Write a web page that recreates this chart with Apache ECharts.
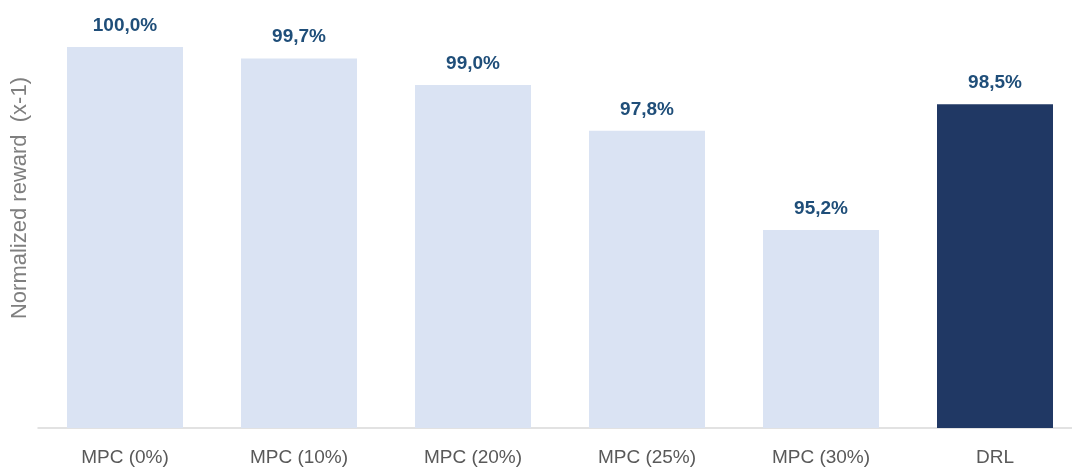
<!DOCTYPE html>
<html>
<head>
<meta charset="utf-8">
<style>
  html, body { margin: 0; padding: 0; background: #ffffff; }
  #chart { width: 1072px; height: 468px; }
</style>
<script src="https://cdn.jsdelivr.net/npm/echarts@6/dist/echarts.min.js"></script>
</head>
<body>
<div id="chart"></div>
<script>
// Controller categories and their normalized rewards (%)
const categories = ['MPC (0%)', 'MPC (10%)', 'MPC (20%)', 'MPC (25%)', 'MPC (30%)', 'DRL'];
const rewards = [100.0, 99.7, 99.0, 97.8, 95.2, 98.5];
const highlighted = ['DRL'];

const axisName = 'Normalized reward  (x-1)';

const chart = echarts.init(document.getElementById('chart'));

const barData = categories.map((c, i) => ({
  value: rewards[i],
  itemStyle: { color: highlighted.includes(c) ? '#203864' : '#DAE3F3' }
}));

chart.setOption({
  animation: false,
  backgroundColor: '#ffffff',
  // plot area runs slightly past the right edge of the canvas
  grid: {
    left: 38, width: 1044, top: 47, bottom: 40,
    containLabel: false, outerBoundsMode: 'none'
  },
  xAxis: {
    type: 'category',
    data: categories,
    axisLine: { show: true, lineStyle: { color: '#d9d9d9', width: 1.5 } },
    axisTick: { show: false },
    axisLabel: {
      color: '#595959',
      fontFamily: 'Liberation Sans, Arial, sans-serif',
      fontSize: 19,
      margin: 20
    }
  },
  yAxis: {
    type: 'value',
    min: 90,
    max: 100,
    show: false
  },
  graphic: [{
    type: 'text',
    left: 9,
    top: 77,
    rotation: Math.PI / 2,
    style: {
      text: axisName,
      fill: '#7f7f7f',
      font: '22px "Liberation Sans", Arial, sans-serif'
    }
  }],
  series: [{
    type: 'bar',
    data: barData,
    barWidth: 116,
    label: {
      show: true,
      position: 'top',
      distance: 12,
      color: '#1F4E79',
      fontFamily: 'Liberation Sans, Arial, sans-serif',
      fontWeight: 'bold',
      fontSize: 19,
      formatter: p => p.value.toFixed(1).replace('.', ',') + '%'
    }
  }]
});
</script>
</body>
</html>
